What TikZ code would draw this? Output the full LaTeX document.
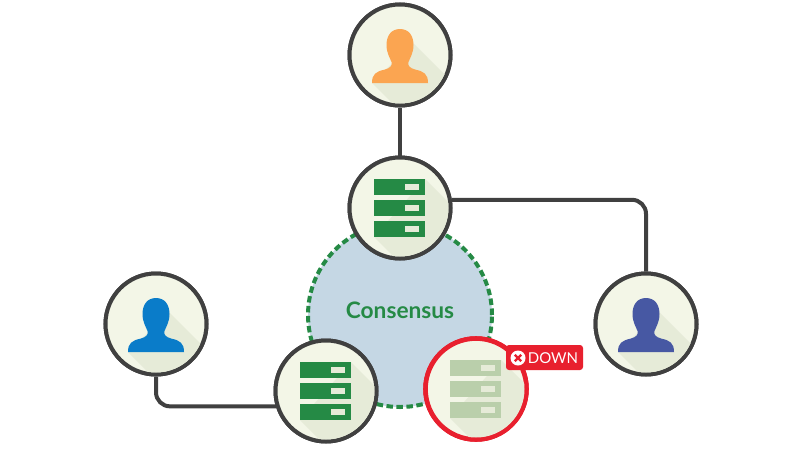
\documentclass[tikz,border=0pt]{standalone}
\usepackage{fontspec}
\setmainfont{Lato}
\definecolor{ringgrey}{HTML}{404040}
\definecolor{discfill}{HTML}{F3F6E7}
\definecolor{discshade}{HTML}{E6EBD8}
\definecolor{srvgreen}{HTML}{258A45}
\definecolor{srvslot}{HTML}{E6EBD8}
\definecolor{srvfade}{HTML}{BACFAB}
\definecolor{downred}{HTML}{E8202E}
\definecolor{lakeblue}{HTML}{C5D7E4}
\definecolor{userorange}{HTML}{FBA551}
\definecolor{userblue}{HTML}{0A7CC9}
\definecolor{userindigo}{HTML}{4758A3}
\tikzset{
  disc/.style={circle,draw=ringgrey,fill=discfill,line width=4pt,minimum size=101pt,inner sep=0pt},
  downdisc/.style={disc,draw=downred,line width=4.6pt},
  wire/.style={draw=ringgrey,line width=4pt,rounded corners=14pt},
  ringline/.style={draw=srvgreen,line width=4pt,dash pattern=on 6.5pt off 3.5pt,fill=lakeblue},
}
\newcommand{\personicon}[2]{%
  \begin{scope}
    \clip (#1.center) circle (48.5pt);
    \fill[discshade,shift={(#1.center)}] (13,-12) -- (83,58) -- (39,95) -- (-28,28) -- cycle;
  \end{scope}
  \fill[#2,shift={(#1.center)}] (0,-26) .. controls (9,-26) and (13.5,-19) .. (13.5,-10)
    .. controls (13.5,-2) and (10,3) .. (8.5,7) .. controls (7.5,11) and (10,13) .. (15,14.5)
    .. controls (24,16.5) and (28,19) .. (28,28) -- (-28,28)
    .. controls (-28,19) and (-24,16.5) .. (-15,14.5) .. controls (-10,13) and (-7.5,11) .. (-8.5,7)
    .. controls (-10,3) and (-13.5,-2) .. (-13.5,-10) .. controls (-13.5,-19) and (-9,-26) .. (0,-26) -- cycle;
}
\newcommand{\servericon}[3]{%
  \begin{scope}
    \clip (#1.center) circle (48.5pt);
    \fill[discshade,shift={(#1.center)}] (25,-29) -- (95,41) -- (44,99) -- (-26,29) -- cycle;
  \end{scope}
  \begin{scope}[shift={(#1.center)}]
    \foreach \rowtop in {-29,-8,13} {
      \fill[#2] (-26,\rowtop) rectangle (25,\rowtop+16);
      \fill[#3] (5,\rowtop+5) rectangle (19,\rowtop+11);
    }
  \end{scope}
}
\begin{document}
\begin{tikzpicture}[x=1pt,y=-1pt]
\useasboundingbox (0,0) rectangle (800,450);
\fill[white] (0,0) rectangle (800,450);
% consensus ring
\node[circle,ringline,minimum size=184pt,inner sep=0pt] (ring) at (400,315) {};
\node[font=\bfseries\fontsize{22.7}{26}\selectfont,text=srvgreen] (ringlabel) at (400,310) {Consensus};
% disc positions
\path (400,55) node[disc] (userT) {}
      (400,208) node[disc] (srvT) {}
      (156,324) node[disc] (userL) {}
      (646,324) node[disc] (userR) {}
      (326,391) node[disc] (srvL) {}
      (476,389) node[downdisc] (srvD) {};
% connectors
\draw[wire] (userT) -- (srvT);
\draw[wire] (srvT.9) -| (userR.north);
\draw[wire] (userL.south) |- (srvL.197);
% redraw discs over connectors
\node[disc] at (userT.center) {};
\node[disc] at (srvT.center) {};
\node[disc] at (userL.center) {};
\node[disc] at (userR.center) {};
\node[disc] at (srvL.center) {};
\node[downdisc] at (srvD.center) {};
\personicon{userT}{userorange}
\personicon{userL}{userblue}
\personicon{userR}{userindigo}
\servericon{srvT}{srvgreen}{srvslot}
\servericon{srvL}{srvgreen}{srvslot}
\servericon{srvD}{srvfade}{srvslot}
% down badge
\node[fill=downred,rounded corners=3pt,minimum width=77pt,minimum height=25pt,inner sep=0pt] (badge) at (544.5,357.5) {};
\node[circle,fill=white,minimum size=15pt,inner sep=0pt] (xmark) at (518,358) {};
\draw[downred,line width=2.4pt] ([shift={(-3.2,-3.2)}]xmark.center) -- ([shift={(3.2,3.2)}]xmark.center);
\draw[downred,line width=2.4pt] ([shift={(-3.2,3.2)}]xmark.center) -- ([shift={(3.2,-3.2)}]xmark.center);
\node[text=white,font=\fontsize{15}{18}\selectfont,inner sep=0pt] (downlabel) at (553,358) {DOWN};
\end{tikzpicture}
\end{document}
